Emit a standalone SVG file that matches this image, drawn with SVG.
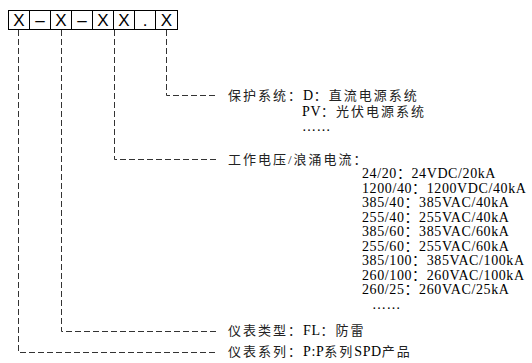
<svg xmlns="http://www.w3.org/2000/svg" width="532" height="363" viewBox="0 0 532 363">
<style>
.cell{fill:#fff;stroke:#000;stroke-width:1}
.bx{font-family:"Liberation Sans",Arial,sans-serif;font-size:17px;fill:#000;text-anchor:middle}
.conn{fill:none;stroke:#333;stroke-width:1;stroke-dasharray:6 3}
.cn{font-family:"Liberation Serif","Noto Sans CJK SC",serif;font-size:13px;fill:#222;letter-spacing:2px}
.v{font-family:"Liberation Serif","Noto Sans CJK SC",serif;font-size:14px;fill:#000;letter-spacing:0.6px}
</style>
<rect width="532" height="363" fill="#fff"/>
<g id="code">
<rect class="cell" x="8.5" y="10.5" width="169" height="19"/>
<g stroke="#000" stroke-width="1">
<line x1="29.5" y1="10.5" x2="29.5" y2="29.5"/>
<line x1="50.5" y1="10.5" x2="50.5" y2="29.5"/>
<line x1="71.5" y1="10.5" x2="71.5" y2="29.5"/>
<line x1="92.5" y1="10.5" x2="92.5" y2="29.5"/>
<line x1="113.5" y1="10.5" x2="113.5" y2="29.5"/>
<line x1="134.5" y1="10.5" x2="134.5" y2="29.5"/>
<line x1="155.5" y1="10.5" x2="155.5" y2="29.5"/>
</g>
<text class="bx" x="19" y="26">X</text>
<text class="bx" x="40" y="26">–</text>
<text class="bx" x="61" y="26">X</text>
<text class="bx" x="82" y="26">–</text>
<text class="bx" x="103" y="26">X</text>
<text class="bx" x="124" y="26">X</text>
<text class="bx" x="145" y="26">.</text>
<text class="bx" x="166.5" y="26">X</text>
</g>
<g id="connectors">
<path class="conn" d="M166.5 30 V95.5 H218"/>
<path class="conn" d="M114.5 30 V159.5 H218"/>
<path class="conn" d="M61.5 30 V331.5 H218"/>
<path class="conn" d="M18.5 30 V352.5 H218"/>
</g>
<g id="protect">
<text class="cn" x="228" y="100">保护系统：<tspan class="v" letter-spacing="0">D</tspan>：直流电源系统</text>
<text class="cn" x="302" y="116"><tspan class="v" letter-spacing="0">PV</tspan>：光伏电源系统</text>
<text class="v" x="302" y="131" font-size="10">……</text>
</g>
<g id="voltage">
<text class="cn" x="228" y="164">工作电压/浪涌电流：</text>
<text class="v" x="362" y="178">24/20：24VDC/20kA</text>
<text class="v" x="362" y="192.5">1200/40：1200VDC/40kA</text>
<text class="v" x="362" y="207">385/40：385VAC/40kA</text>
<text class="v" x="362" y="221.5">255/40：255VAC/40kA</text>
<text class="v" x="362" y="236">385/60：385VAC/60kA</text>
<text class="v" x="362" y="250.5">255/60：255VAC/60kA</text>
<text class="v" x="362" y="265">385/100：385VAC/100kA</text>
<text class="v" x="362" y="279.5">260/100：260VAC/100kA</text>
<text class="v" x="362" y="294">260/25：260VAC/25kA</text>
<text class="v" x="372" y="309" font-size="10">……</text>
</g>
<g id="type">
<text class="cn" x="228" y="335">仪表类型：<tspan class="v" letter-spacing="0">FL</tspan>：防雷</text>
</g>
<g id="series">
<text class="cn" x="228" y="356">仪表系列：<tspan class="v" letter-spacing="0">P:P</tspan>系列<tspan class="v" letter-spacing="0">SPD</tspan>产品</text>
</g>
</svg>
